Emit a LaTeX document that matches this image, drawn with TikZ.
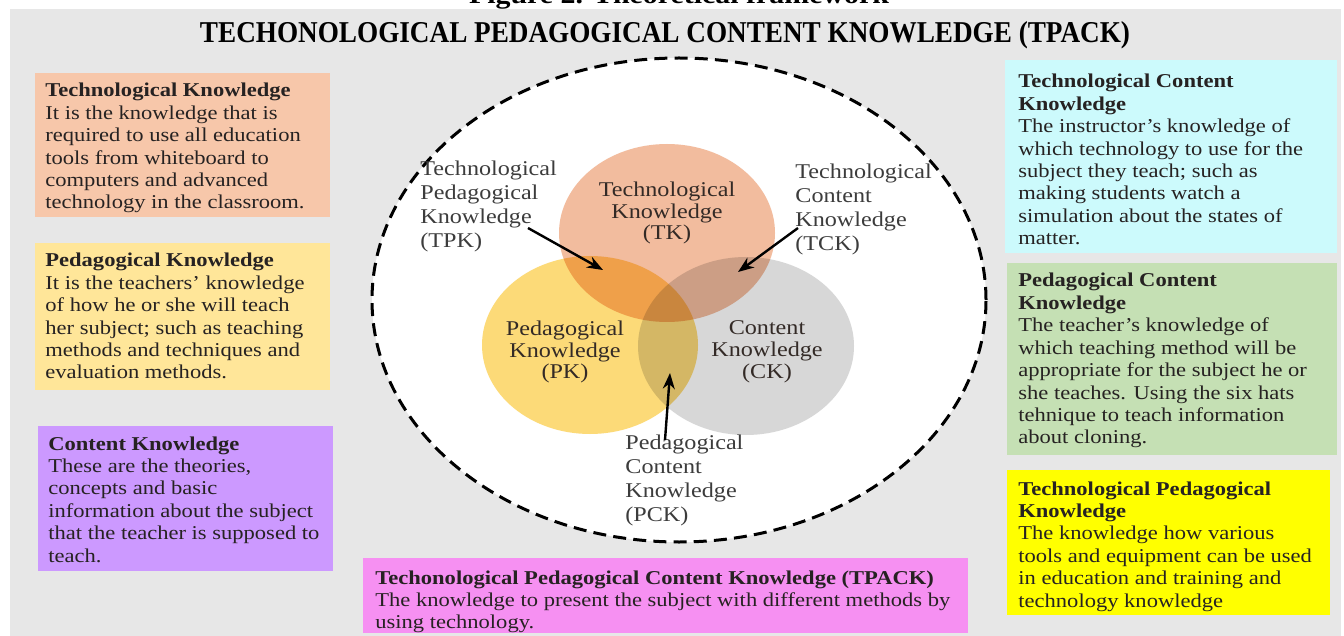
\documentclass[tikz,border=0pt]{standalone}
\usepackage{graphicx}
\usepackage{fontspec}
\setmainfont[FakeStretch=1.15]{Liberation Serif}
\newfontfamily\capfont{Liberation Serif}
\usetikzlibrary{arrows.meta,shapes.geometric}
\definecolor{bggray}{HTML}{E7E7E7}
\definecolor{tkbox}{HTML}{F7C7AA}
\definecolor{pkbox}{HTML}{FFE699}
\definecolor{ckbox}{HTML}{CC99FF}
\definecolor{tckbox}{HTML}{CCFAFC}
\definecolor{pckbox}{HTML}{C5E0B4}
\definecolor{tpkbox}{HTML}{FFFF00}
\definecolor{tpackbox}{HTML}{F690F2}
\definecolor{tkc}{HTML}{F2BC9E}
\definecolor{pkc}{HTML}{FCDA78}
\definecolor{ckc}{HTML}{D7D7D7}
\definecolor{txtc}{HTML}{262222}
\definecolor{labc}{HTML}{332a26}
\definecolor{outc}{HTML}{3c3c3c}
\tikzset{
  boxbg/.style={draw=none, inner sep=0pt, anchor=north west},
  boxtxt/.style={anchor=north west, inner sep=0pt, align=left, text=txtc,
    font=\fontsize{9.8}{11.2}\selectfont},
  circlab/.style={align=center, inner sep=0pt, text=labc,
    font=\fontsize{10.5}{10.9}\selectfont},
  outlab/.style={anchor=north west, align=left, inner sep=0pt, text=outc,
    font=\fontsize{10.5}{12}\selectfont},
  venn/.style={ellipse, draw=none, inner sep=0pt,
    minimum width=216*0.5pt, minimum height=178*0.5pt},
  arr/.style={-{Stealth[length=8pt,width=6pt]}, line width=1.2pt, black},
}
\begin{document}
\begin{tikzpicture}[x=0.5pt,y=-0.5pt]
\useasboundingbox (0,0) rectangle (1344,636);
\begin{scope}
\clip (0,0) rectangle (1344,636);
\fill[white] (0,0) rectangle (1344,636);
\fill[bggray] (10,9) rectangle (1341,636);
\node[anchor=base, inner sep=0pt, font=\bfseries\fontsize{13}{13}\selectfont] (caption) at (679,4) {Figure 2. Theoretical framework};
\end{scope}

\node[anchor=base, inner sep=0pt] (title) at (665,43)
  {\resizebox{465pt}{10.5pt}{\capfont\bfseries TECHONOLOGICAL PEDAGOGICAL CONTENT KNOWLEDGE (TPACK)}};

% left boxes
\node[boxbg, fill=tkbox, minimum width=295*0.5pt, minimum height=144*0.5pt] (tkb) at (35,73) {};
\node[boxtxt] (tkt) at (45,83) {\textbf{Technological Knowledge}\\It is the knowledge that is\\required to use all education\\tools from whiteboard to\\computers and advanced\\technology in the classroom.};

\node[boxbg, fill=pkbox, minimum width=295*0.5pt, minimum height=147*0.5pt] (pkb) at (35,243) {};
\node[boxtxt] (pkt) at (45,253) {\textbf{Pedagogical Knowledge}\\It is the teachers’ knowledge\\of how he or she will teach\\her subject; such as teaching\\methods and techniques and\\evaluation methods.};

\node[boxbg, fill=ckbox, minimum width=295*0.5pt, minimum height=145*0.5pt] (ckb) at (38,426) {};
\node[boxtxt] (ckt) at (48,436) {\textbf{Content Knowledge}\\These are the theories,\\concepts and basic\\information about the subject\\that the teacher is supposed to\\teach.};

% right boxes
\node[boxbg, fill=tckbox, minimum width=332*0.5pt, minimum height=193*0.5pt] (tckb) at (1005,60) {};
\node[boxtxt] (tckt) at (1018,74) {\textbf{Technological Content}\\\textbf{Knowledge}\\The instructor’s knowledge of\\which technology to use for the\\subject they teach; such as\\making students watch a\\simulation about the states of\\matter.};

\node[boxbg, fill=pckbox, minimum width=330*0.5pt, minimum height=192*0.5pt] (pckb) at (1007,263) {};
\node[boxtxt] (pckt) at (1018,273) {\textbf{Pedagogical Content}\\\textbf{Knowledge}\\The teacher’s knowledge of\\which teaching method will be\\appropriate for the subject he or\\she teaches. Using the six hats\\tehnique to teach information\\about cloning.};

\node[boxbg, fill=tpkbox, minimum width=323*0.5pt, minimum height=145*0.5pt] (tpkb) at (1007,470) {};
\node[boxtxt] (tpkt) at (1018,481) {\textbf{Technological Pedagogical}\\\textbf{Knowledge}\\The knowledge how various\\tools and equipment can be used\\in education and training and\\technology knowledge};

% bottom box
\node[boxbg, fill=tpackbox, minimum width=605*0.5pt, minimum height=75*0.5pt] (tpackb) at (363,558) {};
\node[boxtxt] (tpackt) at (375,570) {\textbf{Techonological Pedagogical Content Knowledge (TPACK)}\\The knowledge to present the subject with different methods by\\using technology.};

% outer dashed ellipse
\node[ellipse, fill=white, draw=black, line width=1.5pt, dash pattern=on 6.5pt off 3.6pt,
  minimum width=614*0.5pt, minimum height=484*0.5pt, inner sep=0pt] (outer) at (679,300) {};

% venn
\begin{scope}[blend mode=multiply]
\node[venn, fill=ckc] (ck) at (746,346) {};
\node[venn, fill=pkc] (pk) at (590,345) {};
\node[venn, fill=tkc] (tk) at (667,233) {};
\end{scope}

\node[circlab] (tkl) at (667,213) {Technological\\Knowledge\\(TK)};
\node[circlab] (pkl) at (565,352) {Pedagogical\\Knowledge\\(PK)};
\node[circlab] (ckl) at (767,352) {Content\\Knowledge\\(CK)};

\node[outlab] (tpkl) at (420,161) {Technological\\Pedagogical\\Knowledge\\(TPK)};
\node[outlab] (tckl) at (795,164) {Technological\\Content\\Knowledge\\(TCK)};
\node[outlab] (pckl) at (625,435) {Pedagogical\\Content\\Knowledge\\(PCK)};

\coordinate (tpkS) at (528,228);
\coordinate (tpkT) at (603,270);
\coordinate (tckS) at (798,228);
\coordinate (tckT) at (738,272);
\coordinate (pckS) at (665,440);
\coordinate (pckT) at (670,373);
\draw[arr] (tpkS) -- (tpkT);
\draw[arr] (tckS) -- (tckT);
\draw[arr] (pckS) -- (pckT);
\end{tikzpicture}
\end{document}
